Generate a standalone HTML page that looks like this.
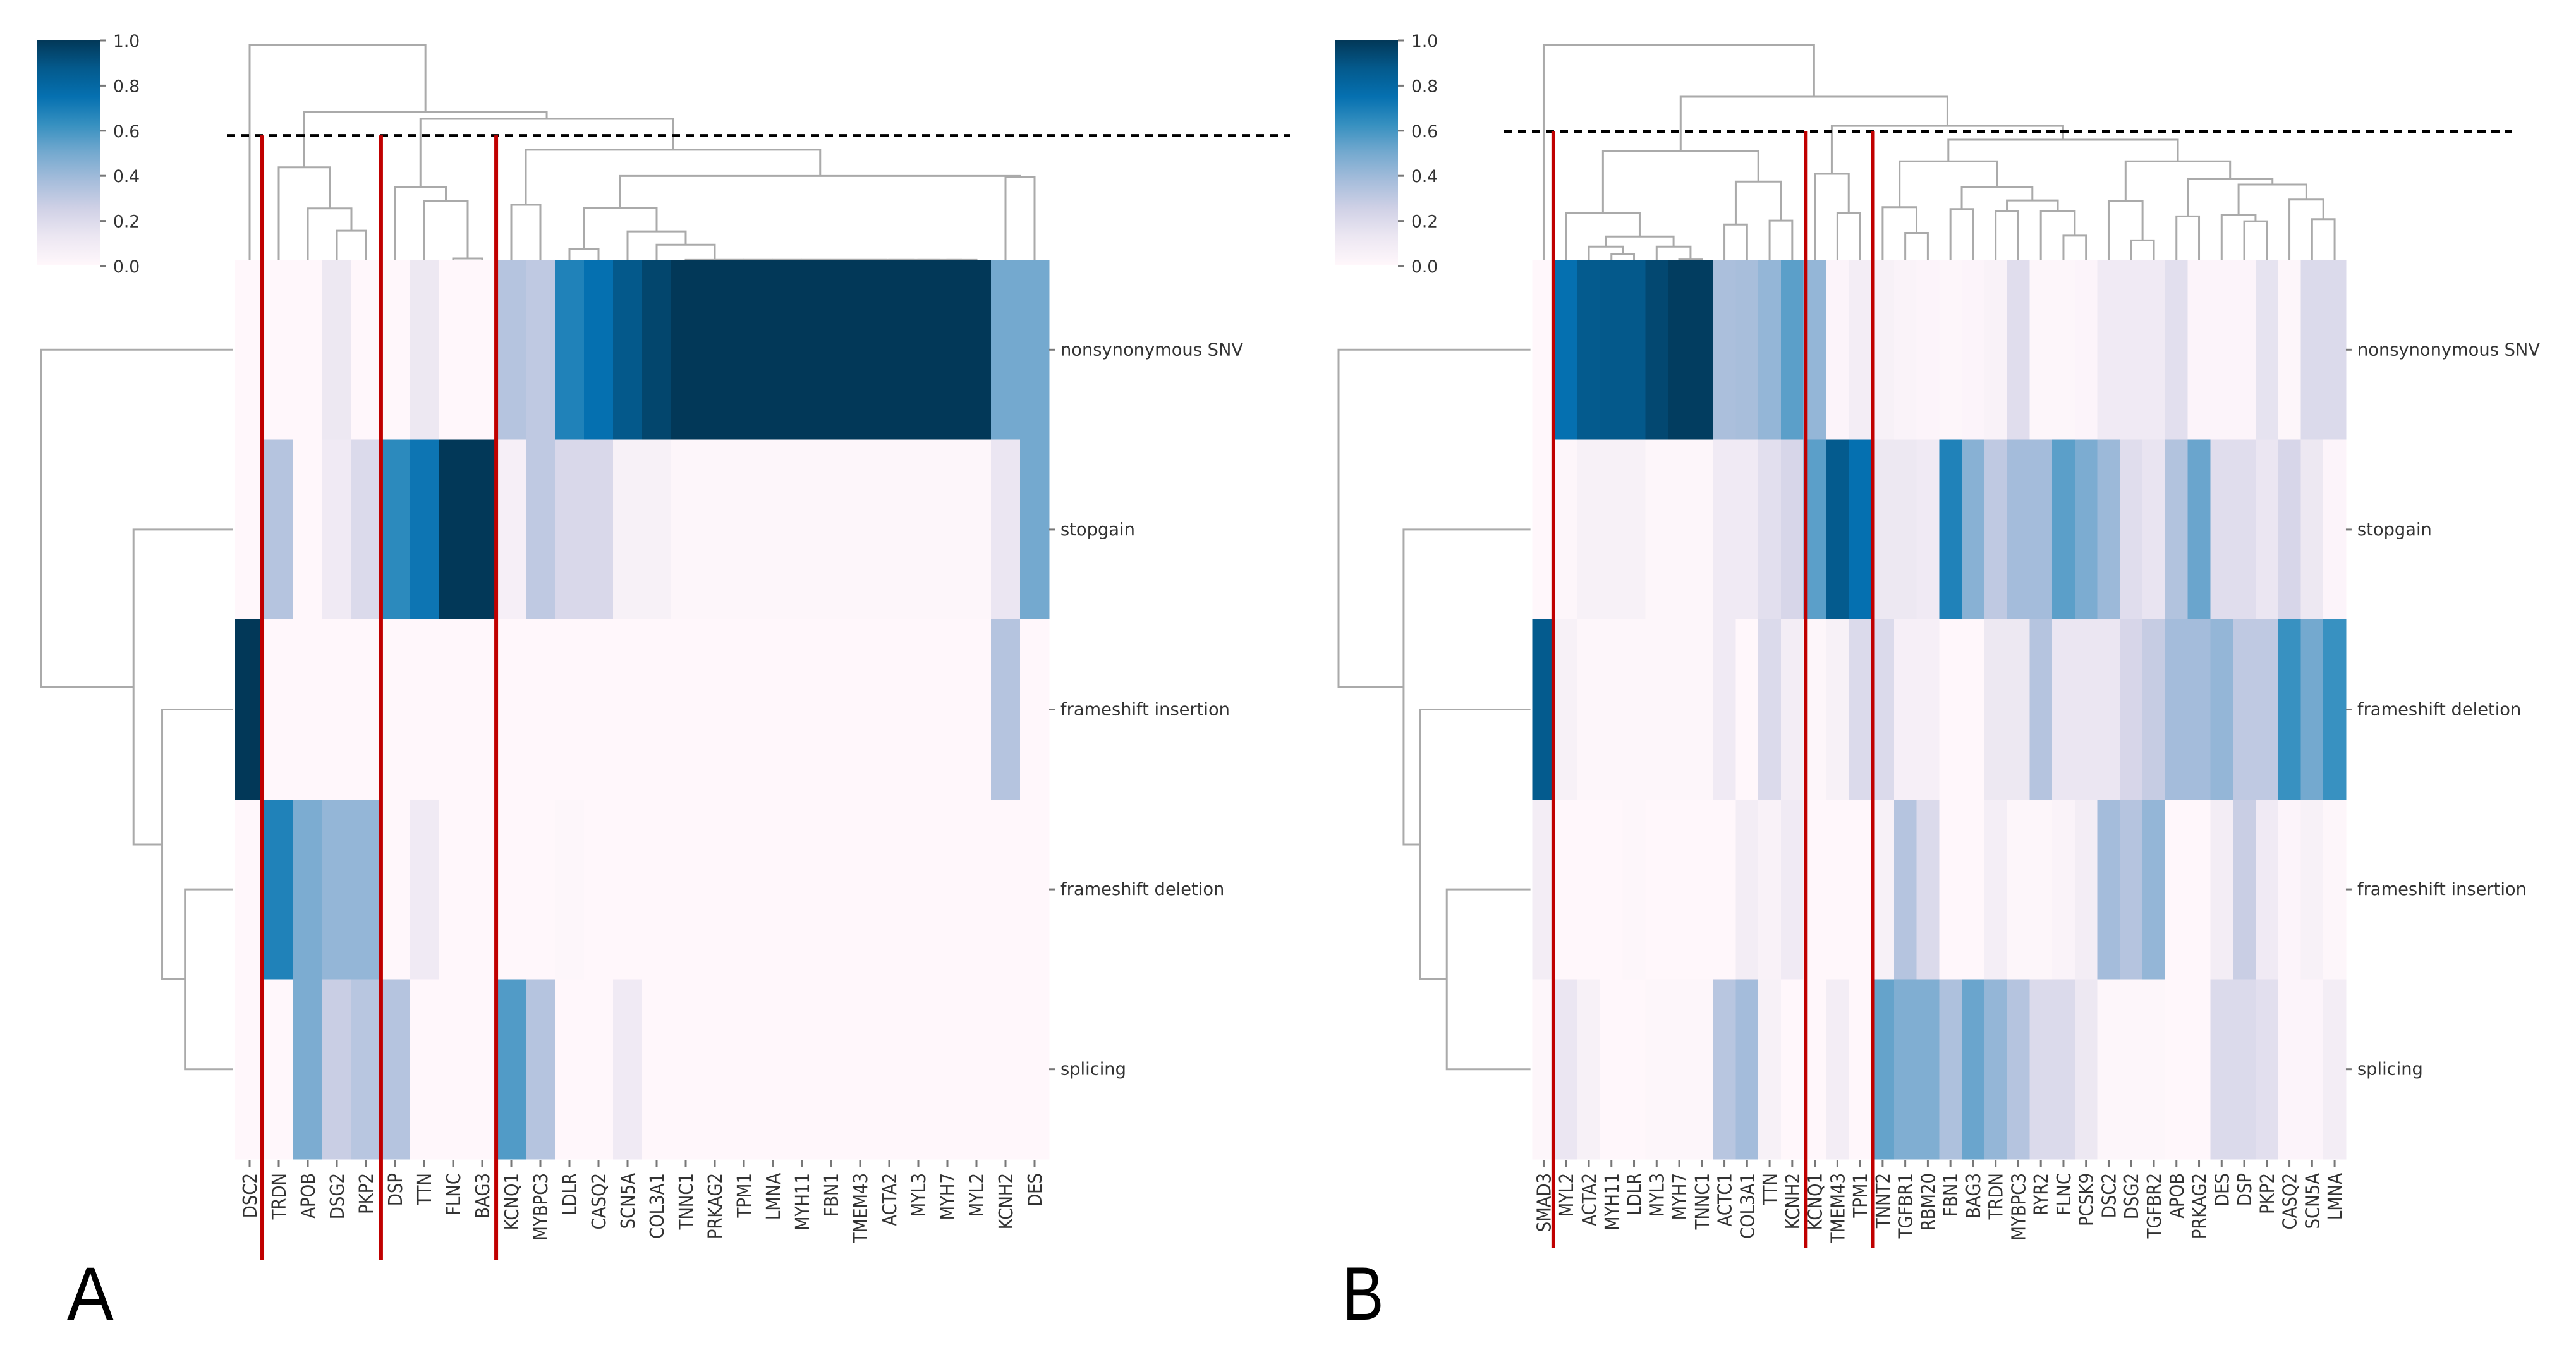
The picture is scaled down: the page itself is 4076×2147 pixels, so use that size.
<!DOCTYPE html>
<html lang="en">
<head>
<meta charset="utf-8">
<title>Clustered heatmaps of variant types per gene</title>
<style>
html,body{margin:0;padding:0;background:#fff;width:4076px;height:2147px;overflow:hidden}
svg{display:block}
text{font-family:"DejaVu Sans","Liberation Sans",sans-serif;fill:#333}
.panel-letter{font-family:"Liberation Sans",sans-serif;font-size:120px;fill:#000}
</style>
</head>
<body>
<svg id="figure" xmlns="http://www.w3.org/2000/svg" width="4076" height="2147" viewBox="0 0 4076 2147">
  <defs>
    <linearGradient id="pubu" x1="0" y1="1" x2="0" y2="0">
      <stop offset="0" stop-color="#fff7fb"/>
      <stop offset="0.125" stop-color="#ece7f2"/>
      <stop offset="0.25" stop-color="#d0d1e6"/>
      <stop offset="0.375" stop-color="#a6bddb"/>
      <stop offset="0.5" stop-color="#74a9cf"/>
      <stop offset="0.625" stop-color="#3690c0"/>
      <stop offset="0.75" stop-color="#0570b0"/>
      <stop offset="0.875" stop-color="#045a8d"/>
      <stop offset="1" stop-color="#023858"/>
    </linearGradient>
  </defs>
  <rect x="0" y="0" width="4076" height="2147" fill="#ffffff"/>
  <g id="panel-a"></g>
  <g id="panel-b"></g>
  <text class="panel-letter" transform="translate(106,2088) scale(0.92,1)">A</text>
  <text class="panel-letter" transform="translate(2124,2088) scale(0.82,1)">B</text>
</svg>
<script>
// ---- Panel A data ----
const genesA = ["DSC2","TRDN","APOB","DSG2","PKP2","DSP","TTN","FLNC","BAG3","KCNQ1","MYBPC3","LDLR","CASQ2","SCN5A","COL3A1","TNNC1","PRKAG2","TPM1","LMNA","MYH11","FBN1","TMEM43","ACTA2","MYL3","MYH7","MYL2","KCNH2","DES"];
const rowsA = ["nonsynonymous SNV","stopgain","frameshift insertion","frameshift deletion","splicing"];
const nonsynA = [0,0,0,.12,0,0,.12,0,0,.33,.3,.68,.75,.88,.95,1,1,1,1,1,1,1,1,1,1,1,.5,.5];
const stopgainA = [0,.33,0,.1,.2,.65,.73,1,1,.06,.3,.21,.21,.05,.05,.01,.01,.01,.01,.01,.01,.01,.01,.01,.01,.01,.13,.5];
const fsInsertionA = [1,0,0,0,0,0,0,0,0,0,0,0,0,0,0,0,0,0,0,0,0,0,0,0,0,0,.33,0];
const fsDeletionA = [0,.68,.48,.42,.42,0,.1,0,0,0,0,.01,0,0,0,0,0,0,0,0,0,0,0,0,0,0,0,0];
const splicingA = [0,0,.48,.27,.32,.33,0,0,0,.57,.33,0,0,.1,0,0,0,0,0,0,0,0,0,0,0,0,0,0];
// Linkage trees: [distance, leftChild, rightChild]; integer children are leaf indices.
const colTreeA = [1,0,[.689,
  [.43,1,[.239,2,[.135,3,4]]],
  [.656,
    [.337,5,[.272,6,[.006,7,8]]],
    [.512,
      [.256,9,10],
      [.39,
        [.241,
          [.051,11,12],
          [.132,13,[.07,14,[.002,15,[.002,16,[.002,17,[.002,18,[.002,19,[.002,20,[.002,21,[.002,22,[.002,23,[.002,24,25]]]]]]]]]]]]
        ],
        [.384,26,27]
      ]
    ]
  ]
]];
const rowTreeA = [1,0,[.519,1,[.37,2,[.251,3,4]]]];
const cutHeightA = 0.579;

// ---- Panel B data ----
const genesB = ["SMAD3","MYL2","ACTA2","MYH11","LDLR","MYL3","MYH7","TNNC1","ACTC1","COL3A1","TTN","KCNH2","KCNQ1","TMEM43","TPM1","TNNT2","TGFBR1","RBM20","FBN1","BAG3","TRDN","MYBPC3","RYR2","FLNC","PCSK9","DSC2","DSG2","TGFBR2","APOB","PRKAG2","DES","DSP","PKP2","CASQ2","SCN5A","LMNA"];
const rowsB = ["nonsynonymous SNV","stopgain","frameshift deletion","frameshift insertion","splicing"];
const nonsynB = [0,.75,.87,.88,.88,.94,.98,.98,.36,.37,.42,.55,.42,.02,.08,.05,.03,.02,.01,.02,.04,.18,.01,.01,.02,.1,.1,.1,.17,.02,.02,.02,.15,.01,.2,.2];
const stopgainB = [0,.01,.05,.05,.05,.01,.01,.01,.1,.1,.17,.22,.55,.87,.75,.12,.12,.1,.68,.45,.3,.38,.38,.55,.48,.4,.18,.14,.34,.52,.18,.18,.13,.22,.12,.02];
const fsDeletionB = [.87,.05,.01,.01,.01,.01,.01,.01,.1,0,.2,.08,.01,.05,.2,.2,.06,.06,0,0,.12,.12,.33,.13,.13,.13,.22,.28,.38,.38,.42,.3,.3,.62,.5,.62];
const fsInsertionB = [.08,0,0,0,.01,0,0,0,0,.08,.04,.1,0,0,0,.05,.33,.2,0,0,.07,.01,.01,.03,.08,.38,.33,.42,0,0,.08,.27,.1,.02,.05,.01];
const splicingB = [.01,.13,.05,0,0,.01,.01,.01,.32,.38,.05,0,0,.08,0,.53,.47,.47,.35,.52,.42,.33,.2,.2,.12,.01,.01,.01,0,0,.2,.2,.17,.02,.02,.08];
const colTreeB = [1,0,[.759,
  [.505,
    [.218,1,[.108,[.061,2,[.027,3,4]],[.061,5,[.004,6,7]]]],
    [.364,[.164,8,9],[.182,10,11]]
  ],
  [.623,
    [.4,12,[.218,13,14]],
    [.559,
      [.458,
        [.245,15,[.125,16,17]],
        [.337,[.236,18,19],[.276,[.225,20,21],[.228,22,[.112,23,24]]]]
      ],
      [.458,
        [.274,25,[.09,26,27]],
        [.375,[.202,28,29],[.35,[.208,30,[.179,31,32]],[.28,33,[.189,34,35]]]]
      ]
    ]
  ]
]];
const rowTreeB = [1,0,[.661,1,[.576,2,[.436,3,4]]]];
const cutHeightB = 0.597;

// ---- Shared legend data ----
const colorbarTicks = [0,0.2,0.4,0.6,0.8,1];
const colorStops = ["#fff7fb","#ece7f2","#d0d1e6","#a6bddb","#74a9cf","#3690c0","#0570b0","#045a8d","#023858"];

const NS = "http://www.w3.org/2000/svg";
function make(parent, tag, attrs) {
  const node = document.createElementNS(NS, tag);
  for (const k in attrs) node.setAttribute(k, attrs[k]);
  parent.appendChild(node);
  return node;
}
function hexToRgb(h) {
  return [parseInt(h.slice(1,3),16), parseInt(h.slice(3,5),16), parseInt(h.slice(5,7),16)];
}
function colorFor(v) {
  const t = Math.max(0, Math.min(1, v)) * (colorStops.length - 1);
  const i = Math.min(Math.floor(t), colorStops.length - 2);
  const a = hexToRgb(colorStops[i]);
  const b = hexToRgb(colorStops[i + 1]);
  const f = t - i;
  return "rgb(" + a.map((c, n) => Math.round(c + (b[n] - c) * f)).join(",") + ")";
}

const rowTop = 411;
const rowHeight = 284.6;

function drawPanel(group, cfg) {
  const xOf = i => cfg.left + i * cfg.colWidth;
  const xMid = i => xOf(i + 0.5);
  const yOf = i => rowTop + i * rowHeight;
  const yMid = i => yOf(i + 0.5);
  const right = xOf(cfg.genes.length);
  const bottom = yOf(cfg.rows.length);

  // heatmap cells
  cfg.matrix.forEach((series, r) => {
    series.forEach((value, c) => {
      const el = make(group, "rect", {x: xOf(c), y: yOf(r), width: cfg.colWidth + 0.4, height: rowHeight + 0.4, fill: colorFor(value), "shape-rendering": "crispEdges"});
      
      
    });
  });

  // gene ticks and labels
  cfg.genes.forEach((gene, c) => {
    const t = make(group, "line", {x1: xMid(c), x2: xMid(c), y1: bottom + 1, y2: bottom + 12, stroke: "#777", "stroke-width": 3});
    
    
    const label = make(group, "text", {transform: "translate(" + (xMid(c) + 11) + "," + (bottom + 22) + ") rotate(-90) scale(1,1.16)", "text-anchor": "end", "font-size": 26});
    label.textContent = gene;
    
    
  });

  // row ticks and labels
  cfg.rows.forEach((name, r) => {
    const t = make(group, "line", {x1: right, x2: right + 9, y1: yMid(r), y2: yMid(r), stroke: "#777", "stroke-width": 3});
    
    
    const label = make(group, "text", {x: right + 18, y: yMid(r) + 9, "font-size": 27.3});
    label.textContent = name;
    
    
  });

  // column dendrogram
  const dTop = d => rowTop - d * (rowTop - 71);
  function walkCol(node) {
    if (typeof node === "number") return {pos: xMid(node), h: 0};
    const a = walkCol(node[1]);
    const b = walkCol(node[2]);
    const p = make(group, "path", {d: "M" + a.pos + " " + dTop(a.h) + "V" + dTop(node[0]) + "H" + b.pos + "V" + dTop(b.h), fill: "none", stroke: "#aaa", "stroke-width": 3});
    
    
    return {pos: (a.pos + b.pos) / 2, h: node[0]};
  }
  walkCol(cfg.colTree);

  // row dendrogram
  const dEnd = cfg.left - 3;
  const dLeft = d => dEnd - d * (dEnd - cfg.treeLeft);
  function walkRow(node) {
    if (typeof node === "number") return {pos: yMid(node), h: 0};
    const a = walkRow(node[1]);
    const b = walkRow(node[2]);
    const p = make(group, "path", {d: "M" + dLeft(a.h) + " " + a.pos + "H" + dLeft(node[0]) + "V" + b.pos + "H" + dLeft(b.h), fill: "none", stroke: "#aaa", "stroke-width": 3});
    
    
    return {pos: (a.pos + b.pos) / 2, h: node[0]};
  }
  walkRow(cfg.rowTree);

  // colour bar
  const barTop = 64;
  const barBottom = 421;
  const bar = make(group, "rect", {x: cfg.barX, y: barTop, width: 100, height: barBottom - barTop - 2, fill: "url(#pubu)"});
  
  
  const barY = v => barBottom - v * (barBottom - barTop);
  colorbarTicks.forEach(v => {
    const t = make(group, "line", {x1: cfg.barX + 100, x2: cfg.barX + 110, y1: barY(v), y2: barY(v), stroke: "#777", "stroke-width": 3});
    
    
    const label = make(group, "text", {x: cfg.barX + 121, y: barY(v) + 10, "font-size": 26.5});
    label.textContent = v.toFixed(1);
    
    
  });

  // cut line
  const cutY = dTop(cfg.cutHeight);
  const cut = make(group, "line", {x1: cfg.cutFrom, x2: cfg.cutTo, y1: cutY, y2: cutY, stroke: "#000", "stroke-width": 4, "stroke-dasharray": "13 9"});
  
  

  // red cluster separators
  cfg.separators.forEach(x => {
    const s = make(group, "line", {x1: xOf(x), x2: xOf(x), y1: cutY, y2: cfg.sepBottom, stroke: "#c00000", "stroke-width": 6});
    
    
  });
}

drawPanel(document.getElementById("panel-a"), {
  genes: genesA, rows: rowsA,
  matrix: [nonsynA, stopgainA, fsInsertionA, fsDeletionA, splicingA],
  colTree: colTreeA, rowTree: rowTreeA, cutHeight: cutHeightA,
  left: 372, colWidth: 46, treeLeft: 65, barX: 58,
  cutFrom: 359, cutTo: 2041, separators: [0.935, 5.02, 8.98], sepBottom: 1993
});
drawPanel(document.getElementById("panel-b"), {
  genes: genesB, rows: rowsB,
  matrix: [nonsynB, stopgainB, fsDeletionB, fsInsertionB, splicingB],
  colTree: colTreeB, rowTree: rowTreeB, cutHeight: cutHeightB,
  left: 2424.6, colWidth: 35.76, treeLeft: 2118, barX: 2112,
  cutFrom: 2380, cutTo: 3975, separators: [0.93, 12.1, 15.07], sepBottom: 1975
});
</script>
</body>
</html>
